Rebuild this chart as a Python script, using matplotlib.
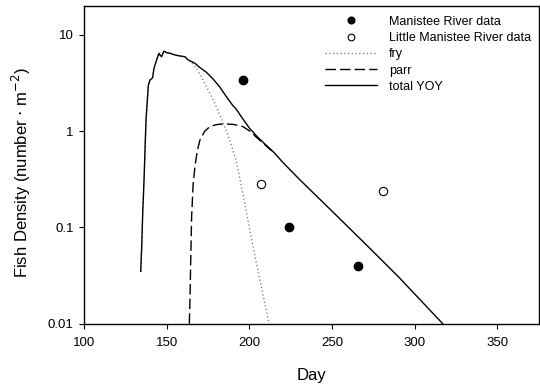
import matplotlib
matplotlib.use("Agg")
import matplotlib.pyplot as plt

plt.rcParams["font.family"] = ["Liberation Sans", "DejaVu Sans"]

# survey points (day, fish per m^2)
manistee_day = [196, 224, 266]
manistee_density = [3.4, 0.10, 0.040]
little_day = [207, 281]
little_density = [0.28, 0.24]

# model output: total young-of-year
total_day = [134.3, 134.9, 135.5, 136.3, 136.9, 137.5, 138.3, 138.9, 139.9,
             141.5, 142.3, 143.9, 145.3, 145.9, 146.9, 148.3, 150, 152, 155,
             158, 161, 163, 167, 170, 174, 178, 182, 186, 190, 192, 196, 200,
             205, 210, 215, 220, 230, 250, 270, 290, 317]
total_density = [0.035, 0.063, 0.14, 0.31, 0.64, 1.31, 2.1, 3.0, 3.4,
                 3.6, 4.5, 5.5, 6.45, 6.2, 5.95, 6.8, 6.55, 6.45, 6.2,
                 6.05, 5.95, 5.5, 5.1, 4.6, 4.1, 3.5, 2.9, 2.3, 1.85, 1.7,
                 1.35, 1.08, 0.87, 0.72, 0.60, 0.48, 0.32, 0.148, 0.068,
                 0.031, 0.01]

# fry follow the total until parr start to appear
fry_day = [134.3, 134.9, 135.5, 136.3, 136.9, 137.5, 138.3, 138.9, 139.9,
           141.5, 142.3, 143.9, 145.3, 145.9, 146.9, 148.3, 150, 152, 155,
           158, 161, 164, 168, 172, 176, 180, 184, 188, 192, 196, 200, 204,
           208, 212]
fry_density = [0.035, 0.063, 0.14, 0.31, 0.64, 1.31, 2.1, 3.0, 3.4,
               3.6, 4.5, 5.5, 6.45, 6.2, 5.95, 6.8, 6.55, 6.45, 6.2,
               6.05, 5.95, 5.4, 4.5, 3.4, 2.5, 1.8, 1.25, 0.82, 0.5, 0.23,
               0.10, 0.045, 0.021, 0.01]

parr_day = [163.7, 164.1, 164.6, 165.1, 166, 167.1, 168.5, 170.1, 173,
            176.2, 180, 184, 190, 196, 200.4, 204.5, 208, 212, 215]
parr_density = [0.01, 0.018, 0.05, 0.13, 0.28, 0.43, 0.62, 0.81, 1.0,
                1.12, 1.17, 1.19, 1.18, 1.12, 1.0, 0.86, 0.76, 0.66, 0.60]

x_ticks = [100, 150, 200, 250, 300, 350]
y_ticks = [0.01, 0.1, 1, 10]
y_tick_labels = ["0.01", "0.1", "1", "10"]

fig = plt.figure(figsize=(5.4, 3.88), dpi=100)
ax = fig.add_axes([0.1556, 0.1657, 0.9974 - 0.1556, 0.9845 - 0.1657])

ax.plot(manistee_day, manistee_density, "o", color="black", ms=6,
        ls="none", label="Manistee River data")
ax.plot(little_day, little_density, "o", mfc="white", mec="black", mew=0.8,
        ms=6, ls="none", label="Little Manistee River data")
ax.plot(fry_day, fry_density, color="0.45", lw=0.9, dashes=(1, 2),
        label="fry")
ax.plot(parr_day, parr_density, color="black", lw=1.0, dashes=(7.5, 3),
        label="parr")
ax.plot(total_day, total_density, color="black", lw=1.0, label="total YOY")

ax.set_yscale("log")
ax.set_xlim(100, 375)
ax.set_ylim(0.01, 20)
ax.set_xticks(x_ticks)
ax.set_yticks(y_ticks)
ax.set_yticklabels(y_tick_labels)
ax.minorticks_off()
ax.tick_params(direction="out", length=3.5, width=0.8, labelsize=9.5,
               pad=4)
ax.tick_params(axis="x", pad=6)
for s in ax.spines.values():
    s.set_linewidth(1.0)

ax.set_xlabel("Day", fontsize=12, labelpad=14)
ax.set_ylabel("Fish Density (number $\\cdot$ m$^{-2}$)", fontsize=12)
ax.yaxis.set_label_coords(-0.112, 0.475)

ax.legend(loc="upper left", bbox_to_anchor=(0.53, 0.969), frameon=False,
          fontsize=9, handlelength=4.2, handletextpad=0.9,
          labelspacing=0.34, borderpad=0, borderaxespad=0, markerscale=0.8)

fig.savefig("out.png", dpi=100)
